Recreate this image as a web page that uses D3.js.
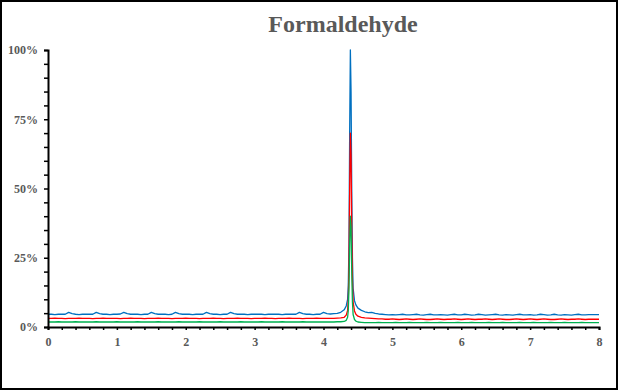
<!DOCTYPE html>
<html>
<head>
<meta charset="utf-8">
<script src="https://cdn.jsdelivr.net/npm/d3@7"></script>
<style>
  body { margin: 0; background: #fff; }
  svg { display: block; }
  .tick text { font-family: "Liberation Serif", "Times New Roman", serif; font-weight: bold; font-size: 12px; }
</style>
</head>
<body>
<div id="chart"></div>
<script>
// time axis (minutes)
const times = [
  0.00,0.05,0.10,0.15,0.20,0.25,0.30,0.35,0.40,0.45,0.50,0.55,0.60,0.65,0.70,0.75,0.80,0.85,0.90,0.95,
  1.00,1.05,1.10,1.15,1.20,1.25,1.30,1.35,1.40,1.45,1.50,1.55,1.60,1.65,1.70,1.75,1.80,1.85,1.90,1.95,
  2.00,2.05,2.10,2.15,2.20,2.25,2.30,2.35,2.40,2.45,2.50,2.55,2.60,2.65,2.70,2.75,2.80,2.85,2.90,2.95,
  3.00,3.05,3.10,3.15,3.20,3.25,3.30,3.35,3.40,3.45,3.50,3.55,3.60,3.65,3.70,3.75,3.80,3.85,3.90,3.95,
  4.00,4.05,4.10,4.15,4.20,4.25,
  4.30,4.33,4.35,4.36,4.37,4.38,4.39,4.40,4.41,4.42,4.43,4.45,4.47,4.50,4.55,4.60,
  4.65,4.70,4.75,4.80,4.85,4.90,4.95,
  5.00,5.05,5.10,5.15,5.20,5.25,5.30,5.35,5.40,5.45,5.50,5.55,5.60,5.65,5.70,5.75,5.80,5.85,5.90,5.95,
  6.00,6.05,6.10,6.15,6.20,6.25,6.30,6.35,6.40,6.45,6.50,6.55,6.60,6.65,6.70,6.75,6.80,6.85,6.90,6.95,
  7.00,7.05,7.10,7.15,7.20,7.25,7.30,7.35,7.40,7.45,7.50,7.55,7.60,7.65,7.70,7.75,7.80,7.85,7.90,7.95,
  8.00
]

// series values in percent
const blueValues = [
  4.6,4.6,4.5,4.6,4.6,4.6,5.3,4.8,4.6,4.5,4.6,4.6,4.6,4.6,5.3,4.8,4.6,4.6,4.5,4.6,
  4.6,4.7,5.3,4.8,4.6,4.6,4.6,4.5,4.6,4.6,5.3,4.8,4.6,4.6,4.6,4.5,4.6,5.3,4.8,4.6,
  4.6,4.6,4.5,4.6,4.6,4.6,5.3,4.8,4.6,4.6,4.5,4.6,4.6,5.3,4.8,4.6,4.6,4.6,4.5,4.6,
  4.6,4.6,4.6,4.5,4.6,4.6,4.6,4.6,4.5,4.6,4.6,4.6,4.6,5.3,4.8,4.6,4.6,4.5,4.6,4.6,
  5.3,4.8,4.7,4.8,4.9,5.3,
  6.2,7.6,10,15,30,70,100,85,50,25,14,9.5,8,6.8,6.0,5.5,
  5.2,5.3,4.9,4.7,4.6,4.5,4.4,
  4.5,4.4,4.5,4.6,4.4,4.4,4.5,4.6,4.4,4.3,4.5,4.6,4.4,4.4,4.5,4.4,4.3,4.5,4.6,4.4,
  4.4,4.6,4.5,4.3,4.4,4.6,4.5,4.3,4.4,4.5,4.6,4.4,4.3,4.5,4.4,4.3,4.5,4.6,4.4,4.4,
  4.5,4.3,4.4,4.6,4.5,4.3,4.4,4.6,4.4,4.3,4.5,4.4,4.3,4.5,4.6,4.4,4.4,4.5,4.5,4.5,
  4.5
]
const redValues = [
  3.1,3.1,3.2,3.1,3.1,3.0,3.1,3.1,3.1,3.2,3.1,3.1,3.1,3.0,3.1,3.1,3.2,3.1,3.1,3.1,
  3.1,3.0,3.1,3.1,3.2,3.1,3.1,3.1,3.0,3.1,3.1,3.1,3.2,3.1,3.1,3.1,3.0,3.1,3.1,3.1,
  3.2,3.1,3.1,3.1,3.0,3.1,3.1,3.1,3.2,3.1,3.1,3.0,3.1,3.1,3.1,3.2,3.1,3.1,3.1,3.0,
  3.1,3.1,3.1,3.2,3.1,3.1,3.0,3.1,3.1,3.1,3.2,3.1,3.1,3.1,3.0,3.1,3.1,3.1,3.2,3.1,
  3.1,3.1,3.1,3.1,3.2,3.3,
  3.5,4.3,6,10,22,50,70,62,35,17,9,5.8,4.6,3.9,3.5,3.3,
  3.2,3.1,3.0,2.9,2.9,2.8,2.8,
  2.9,2.8,2.7,2.8,2.9,2.8,2.7,2.8,2.9,2.8,2.7,2.7,2.8,2.9,2.8,2.7,2.8,2.8,2.9,2.8,
  2.7,2.8,2.9,2.8,2.7,2.8,2.8,2.9,2.8,2.7,2.8,2.9,2.8,2.7,2.7,2.8,2.9,2.8,2.7,2.8,
  2.9,2.8,2.7,2.8,2.9,2.8,2.7,2.7,2.8,2.9,2.8,2.7,2.8,2.8,2.9,2.8,2.7,2.8,2.8,2.8,
  2.8
]
const greenValues = [
  1.8,1.8,1.8,1.9,1.8,1.8,1.8,1.8,1.9,1.8,1.8,1.8,1.8,1.8,1.9,1.8,1.8,1.8,1.8,1.8,
  1.9,1.8,1.8,1.8,1.8,1.8,1.9,1.8,1.8,1.8,1.8,1.8,1.9,1.8,1.8,1.8,1.8,1.8,1.9,1.8,
  1.8,1.8,1.8,1.8,1.9,1.8,1.8,1.8,1.8,1.8,1.9,1.8,1.8,1.8,1.8,1.8,1.9,1.8,1.8,1.8,
  1.8,1.8,1.9,1.8,1.8,1.8,1.8,1.8,1.9,1.8,1.8,1.8,1.8,1.8,1.9,1.8,1.8,1.8,1.8,1.8,
  1.8,1.8,1.8,1.8,1.9,1.9,
  2.0,2.4,3.5,6,14,30,40,36,20,9,4.5,2.7,2.1,1.8,1.7,1.6,
  1.6,1.6,1.6,1.7,1.6,1.6,1.6,
  1.6,1.7,1.6,1.6,1.6,1.7,1.6,1.6,1.6,1.6,1.7,1.6,1.6,1.6,1.7,1.6,1.6,1.6,1.6,1.7,
  1.6,1.6,1.6,1.7,1.6,1.6,1.6,1.6,1.7,1.6,1.6,1.6,1.7,1.6,1.6,1.6,1.6,1.7,1.6,1.6,
  1.6,1.7,1.6,1.6,1.6,1.6,1.7,1.6,1.6,1.6,1.7,1.6,1.6,1.6,1.6,1.7,1.6,1.6,1.6,1.6,
  1.6
]

const xTicks = [0,0.2,0.4,0.6,0.8,1,1.2,1.4,1.6,1.8,2,2.2,2.4,2.6,2.8,3,3.2,3.4,3.6,3.8,
                4,4.2,4.4,4.6,4.8,5,5.2,5.4,5.6,5.8,6,6.2,6.4,6.6,6.8,7,7.2,7.4,7.6,7.8,8]
const yTicks = [0,5,10,15,20,25,30,35,40,45,50,55,60,65,70,75,80,85,90,95,100]

const width = 618
const height = 390

const svg = d3.select('#chart')
              .append('svg')
              .attr('width', width)
              .attr('height', height)

// outer frame
svg.append('rect')
   .attr('x', 1)
   .attr('y', 1)
   .attr('width', width - 2)
   .attr('height', height - 2)
   .attr('fill', '#fff')
   .attr('stroke', '#000')
   .attr('stroke-width', 2)

svg.append('text')
   .attr('x', 343)
   .attr('y', 32)
   .attr('text-anchor', 'middle')
   .attr('font-family', '"Liberation Serif", "Times New Roman", serif')
   .attr('font-weight', 'bold')
   .attr('font-size', '24px')
   .attr('fill', '#595959')
   .text('Formaldehyde')

const x = d3.scaleLinear().domain([0, 8]).range([48, 599])
const y = d3.scaleLinear().domain([0, 100]).range([327, 50])

const line = d3.line()
               .x((d, i) => x(times[i]))
               .y(d => y(d))

// blue at the back, green in front, as in the original
const series = [
  {values: blueValues, color: '#0070C0'},
  {values: redValues, color: '#FF0000'},
  {values: greenValues, color: '#00B050'}
]

svg.selectAll('.series')
   .data(series)
   .join('path')
   .attr('class', 'series')
   .attr('fill', 'none')
   .attr('stroke', d => d.color)
   .attr('stroke-width', 1.3)
   .attr('stroke-linejoin', 'round')
   .attr('d', d => line(d.values))

const yAxis = svg.append('g')
   .attr('transform', `translate(${x(0)},0)`)
   .call(d3.axisLeft(y)
           .tickValues(yTicks)
           .tickSize(4)
           .tickPadding(6)
           .tickFormat(d => d % 25 === 0 ? d + '%' : ''))

const xAxis = svg.append('g')
   .attr('transform', `translate(0,${y(0)})`)
   .call(d3.axisBottom(x)
           .tickValues(xTicks)
           .tickSize(3)
           .tickPadding(7)
           .tickFormat(d => Number.isInteger(d) ? d : ''))

svg.selectAll('.domain')
   .attr('stroke', '#000')
   .attr('stroke-width', 2)
svg.selectAll('.tick line')
   .attr('stroke', '#000')
   .attr('stroke-width', 1.5)
svg.selectAll('.tick text')
   .attr('fill', '#595959')
</script>
</body>
</html>
